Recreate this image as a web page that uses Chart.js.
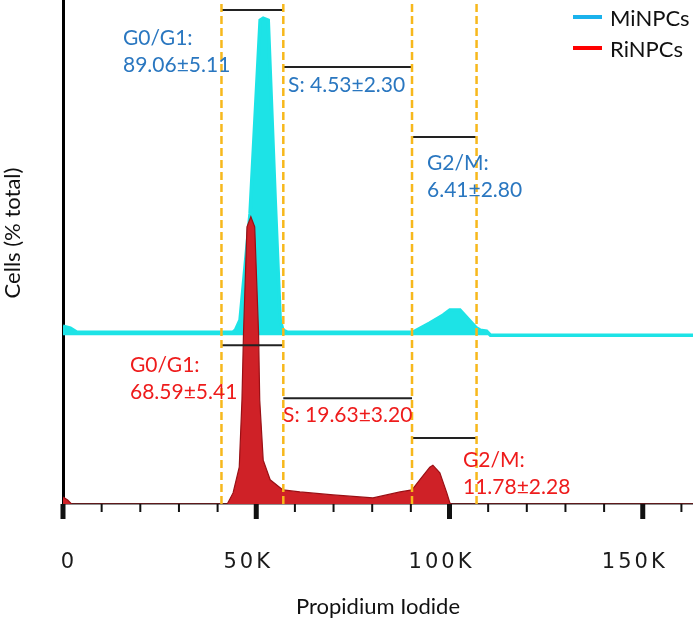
<!DOCTYPE html>
<html>
<head>
  <meta charset="UTF-8">
  <title>Cell cycle histogram</title>
  <script src="https://cdn.jsdelivr.net/npm/chart.js"></script>
  <style>
    body { margin: 0; background: #fff; }
    #chart { display: block; }
  </style>
</head>
<body>
  <canvas id="chart" width="693" height="620"></canvas>
  <script>
    // propidium iodide channel positions and heights
    const miX = [0, 1900, 3600, 44000, 44600, 45800, 48400, 51000, 51800, 53100, 54900, 56200, 56900, 58000,
                 90600, 94900, 98400, 100100, 102700, 107000, 107900, 109600, 110600, 163000];
    const miCounts = [1.8, 1.4, 0.6, 0.6, 1.0, 3.0, 24.2, 62.5, 62.9, 62.5, 26.8, 3.0, 1.0, 0.6,
                      0.6, 2.4, 4.0, 5.0, 5.0, 1.4, 1.0, 0.8, 0, 0];
    const riX = [0, 1200, 2200, 42500, 44000, 45600, 46300, 46700, 47600, 48600, 49600, 50600, 50900, 51800,
                 53600, 56900, 61300, 69900, 80200, 87200, 90300, 92300, 94900, 95700, 97500, 99300, 100100, 100500, 163000];
    const riCounts = [1.4, 0.8, 0, 0, 2.2, 7.3, 20.6, 33.9, 55.0, 57.0, 55.0, 33.9, 20.6, 8.7,
                      4.8, 2.8, 2.4, 1.8, 1.2, 2.4, 2.8, 4.8, 7.3, 7.7, 6.2, 2.2, 0.2, 0, 0];
    const MI_OFFSET = 33.5;   // MiNPCs histogram is stacked above RiNPCs

    const seriesNames = ['MiNPCs', 'RiNPCs'];
    const gates = [41000, 57000, 90300, 107000];
    const miBarLevels = [98.0, 86.7, 72.8];
    const riBarLevels = [31.5, 21.0, 13.1];
    const miText = [['G0/G1:', '89.06±5.11'], ['S: 4.53±2.30'], ['G2/M:', '6.41±2.80']];
    const riText = [['G0/G1:', '68.59±5.41'], ['S: 19.63±3.20'], ['G2/M:', '11.78±2.28']];
    const majorTicks = [0, 50000, 100000, 150000];
    const tickLabels = ['0', '50K', '100K', '150K'];
    const MINOR_STEP = 10000;

    const CYAN = '#1DE3E6', RED = '#CF2127';
    const BLUE_TXT = '#2A77C0', RED_TXT = '#EE1C1C';
    const GATE = '#F7B81C';

    const datasets = [];
    gates.forEach(g => datasets.push({
      data: [{x: g, y: 0}, {x: g, y: 100}],
      borderColor: GATE, borderWidth: 2.5, borderDash: [8, 4],
      pointRadius: 0, fill: false, order: 0
    }));
    [miBarLevels, riBarLevels].forEach(levels => levels.forEach((lv, i) => datasets.push({
      data: [{x: gates[i], y: lv}, {x: gates[i + 1], y: lv}],
      borderColor: '#222', borderWidth: 2, pointRadius: 0, fill: false, order: 0
    })));
    datasets.push({
      label: seriesNames[1],
      data: riX.map((x, i) => ({x: x, y: riCounts[i]})),
      borderColor: '#9A1015', borderWidth: 1.2, backgroundColor: RED,
      fill: 'origin', pointRadius: 0, tension: 0, order: 1
    });
    datasets.push({
      label: seriesNames[0],
      data: miX.map((x, i) => ({x: x, y: MI_OFFSET + miCounts[i]})),
      borderColor: CYAN, borderWidth: 3.5, backgroundColor: CYAN,
      fill: {value: MI_OFFSET}, pointRadius: 0, tension: 0, order: 2
    });

    const overlay = {
      id: 'overlay',
      afterDraw(chart) {
        const {ctx, chartArea} = chart;
        const x = chart.scales.x;
        ctx.save();

        // x tick marks: long ones every 50K, short every 10K
        ctx.strokeStyle = '#111';
        for (let v = 0; v <= x.max; v += MINOR_STEP) {
          const px = x.getPixelForValue(v);
          const major = majorTicks.includes(v);
          ctx.lineWidth = major ? 5 : 2;
          ctx.beginPath();
          ctx.moveTo(px, chartArea.bottom);
          ctx.lineTo(px, chartArea.bottom + (major ? 15 : 8));
          ctx.stroke();
        }
        ctx.font = '21px "DejaVu Sans"';
        ctx.letterSpacing = '3px';
        ctx.fillStyle = '#1a1a1a';
        ctx.textAlign = 'center';
        majorTicks.forEach((v, i) => {
          const px = x.getPixelForValue(v);
          ctx.fillText(tickLabels[i], v === 0 ? px + 6 : px - 8, 568);
        });
        ctx.letterSpacing = '0px';

        // y axis title
        ctx.save();
        ctx.translate(13, 233);
        ctx.rotate(-Math.PI / 2);
        ctx.font = '22px Lato';
        ctx.fillStyle = '#111';
        ctx.textBaseline = 'middle';
        ctx.fillText('Cells (% total)', 0, 0);
        ctx.restore();

        // legend
        ctx.textAlign = 'left';
        ctx.font = '22px Lato';
        [['#1AB2EC', 17], ['#FF0000', 48]].forEach((s, i) => {
          ctx.strokeStyle = s[0];
          ctx.lineWidth = 4;
          ctx.beginPath();
          ctx.moveTo(573, s[1]);
          ctx.lineTo(602, s[1]);
          ctx.stroke();
          ctx.fillStyle = '#111';
          ctx.fillText(seriesNames[i], 610, s[1] + 9);
        });

        // phase percentages
        ctx.font = '21px Lato';
        const put = (lines, color, left, base) => {
          ctx.fillStyle = color;
          lines.forEach((t, k) => ctx.fillText(t, left, base + k * 27));
        };
        put(miText[0], BLUE_TXT, 123, 45);
        put(miText[1], BLUE_TXT, 288, 92);
        put(miText[2], BLUE_TXT, 427, 170);
        put(riText[0], RED_TXT, 130, 372);
        put(riText[1], RED_TXT, 283, 422);
        put(riText[2], RED_TXT, 463, 467);
        ctx.restore();
      }
    };

    new Chart(document.getElementById('chart').getContext('2d'), {
      type: 'line',
      data: { datasets: datasets },
      plugins: [overlay],
      options: {
        responsive: false,
        animation: false,
        layout: { padding: 0 },
        plugins: { legend: { display: false }, tooltip: { enabled: false } },
        scales: {
          x: {
            type: 'linear', min: 0, max: 163000,
            ticks: { display: false },
            grid: { display: true, drawOnChartArea: false, drawTicks: false },
            border: { display: true, color: '#222', width: 1.5 },
            title: { display: true, text: 'Propidium Iodide', color: '#111',
                     font: { family: 'Lato', size: 22 }, padding: { top: 0, bottom: 0 } },
            afterFit: s => { s.height = 116; }
          },
          y: {
            min: 0, max: 100,
            ticks: { display: false },
            grid: { display: true, drawOnChartArea: false, drawTicks: false },
            border: { display: true, color: '#000', width: 3 },
            afterFit: s => { s.width = 63; }
          }
        }
      }
    });
  </script>
</body>
</html>
